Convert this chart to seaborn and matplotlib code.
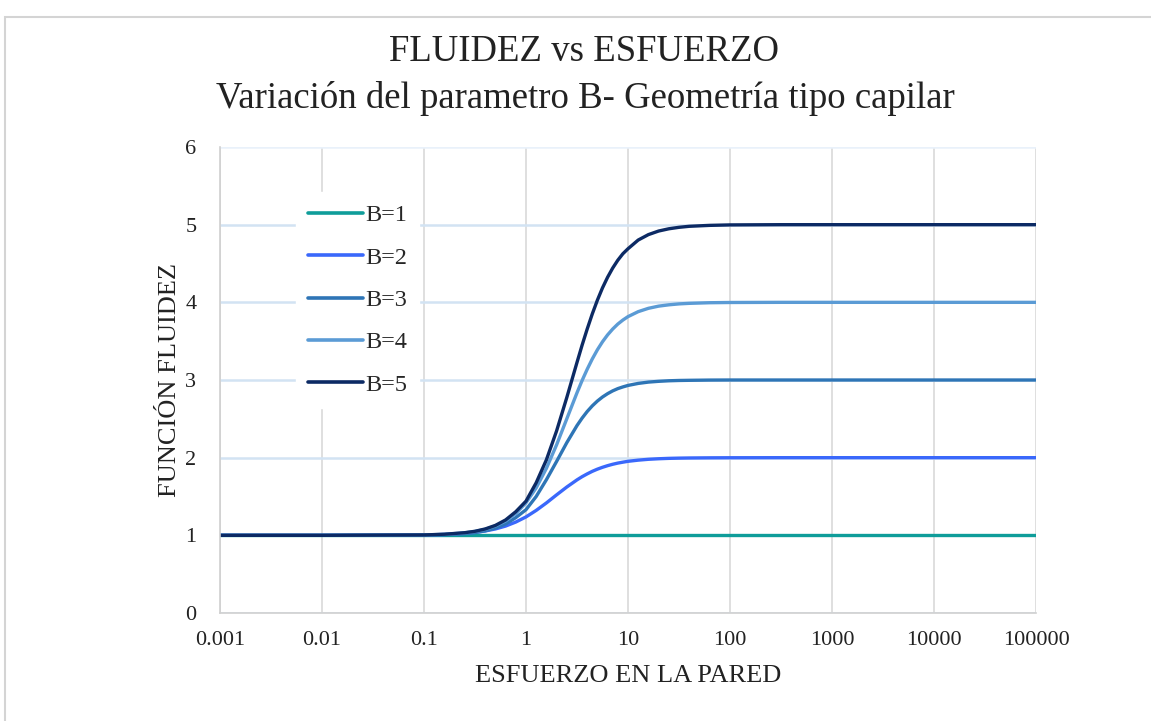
import numpy as np
import pandas as pd
import matplotlib
matplotlib.use("Agg")
import matplotlib.pyplot as plt
from matplotlib.patches import Rectangle
from matplotlib.ticker import FixedLocator, FixedFormatter, NullLocator
import seaborn as sns

# Wall shear stress values (log-spaced, denser through the transition)
esfuerzo = [0.001, 0.01, 0.1, 0.1585, 0.2512, 0.3162, 0.3981, 0.5012, 0.631,
            0.7943, 1.0, 1.259, 1.585, 1.995, 2.512, 3.162, 3.548, 3.981,
            4.467, 5.012, 5.623, 6.31, 7.079, 7.943, 8.913, 10.0, 12.59,
            15.85, 19.95, 25.12, 31.62, 39.81, 63.1, 100.0, 316.2, 1000.0,
            10000.0, 100000.0]

# Fluidity function for each value of parameter B
fluidez_b1 = [1.0] * 38
fluidez_b2 = [1.0, 1.0, 1.005, 1.011, 1.025, 1.037, 1.056, 1.082, 1.119,
              1.171, 1.237, 1.321, 1.417, 1.521, 1.622, 1.714, 1.755, 1.791,
              1.824, 1.852, 1.876, 1.897, 1.915, 1.930, 1.942, 1.953, 1.968,
              1.979, 1.986, 1.991, 1.994, 1.996, 1.998, 1.999, 2.0, 2.0,
              2.0, 2.0]
fluidez_b3 = [1.0, 1.0, 1.003, 1.008, 1.022, 1.036, 1.058, 1.093, 1.146,
              1.228, 1.330, 1.500, 1.716, 1.951, 2.193, 2.413, 2.509, 2.594,
              2.667, 2.729, 2.781, 2.824, 2.860, 2.889, 2.911, 2.930, 2.956,
              2.973, 2.983, 2.990, 2.994, 2.996, 2.999, 3.0, 3.0, 3.0,
              3.0, 3.0]
fluidez_b4 = [1.0, 1.0, 1.005, 1.013, 1.032, 1.050, 1.077, 1.120, 1.184,
              1.280, 1.419, 1.611, 1.862, 2.165, 2.500, 2.835, 2.993, 3.138,
              3.271, 3.389, 3.492, 3.581, 3.656, 3.720, 3.772, 3.816, 3.880,
              3.923, 3.951, 3.968, 3.980, 3.987, 3.995, 3.998, 4.0, 4.0,
              4.0, 4.0]
fluidez_b5 = [1.0, 1.0, 1.005, 1.014, 1.034, 1.052, 1.082, 1.128, 1.198,
              1.304, 1.440, 1.677, 1.972, 2.344, 2.774, 3.226, 3.448, 3.656,
              3.851, 4.028, 4.186, 4.323, 4.441, 4.542, 4.626, 4.690, 4.802,
              4.872, 4.918, 4.947, 4.966, 4.979, 4.991, 4.997, 5.0, 5.0,
              5.0, 5.0]

series_labels = ["B=1", "B=2", "B=3", "B=4", "B=5"]
series_colors = ["#0f9d9a", "#3a68fb", "#2e75b6", "#5b9bd5", "#0c2a64"]

x_ticks = [0.001, 0.01, 0.1, 1, 10, 100, 1000, 10000, 100000]
x_tick_labels = ["0.001", "0.01", "0.1", "1", "10", "100", "1000", "10000", "100000"]
y_ticks = [0, 1, 2, 3, 4, 5, 6]

frames = []
for lab, vals in zip(series_labels,
                     [fluidez_b1, fluidez_b2, fluidez_b3, fluidez_b4, fluidez_b5]):
    frames.append(pd.DataFrame({"esfuerzo": esfuerzo, "fluidez": vals, "serie": lab}))
df = pd.concat(frames, ignore_index=True)

sns.set_style("white")
plt.rcParams["font.family"] = ["Liberation Serif", "DejaVu Serif"]

fig = plt.figure(figsize=(11.51, 7.21), dpi=100)
ax = fig.add_axes([0.1911, 0.1498, 0.7090, 0.6463])

# outer chart frame
fig.add_artist(Rectangle((5 / 1151, -0.1), 1.2, 1.1 - 17 / 721,
                         transform=fig.transFigure, fill=False,
                         edgecolor="#d4d4d4", linewidth=1.5))

sns.lineplot(data=df, x="esfuerzo", y="fluidez", hue="serie",
             hue_order=series_labels, palette=series_colors,
             linewidth=2.4, ax=ax, legend=True, sort=False)

ax.set_xscale("log")
ax.set_xlim(0.001, 100000)
ax.set_ylim(0, 6)
ax.xaxis.set_major_locator(FixedLocator(x_ticks))
ax.xaxis.set_major_formatter(FixedFormatter(x_tick_labels))
ax.xaxis.set_minor_locator(NullLocator())
ax.set_yticks(y_ticks)

# grid: vertical gray, horizontal pale blue
ax.set_axisbelow(True)
ax.xaxis.grid(True, color="#d9d9d9", linewidth=1.2)
ax.yaxis.grid(True, color="#d2e3f3", linewidth=1.8)
ax.yaxis.get_gridlines()[-1].set_color("#e9f1fa")

for side in ["top", "right"]:
    ax.spines[side].set_visible(False)
for side in ["bottom", "left"]:
    ax.spines[side].set_color("#d0d0d0")
    ax.spines[side].set_linewidth(1.2)

ax.tick_params(axis="both", length=0, labelsize=16, colors="#222222")
ax.tick_params(axis="x", pad=13)
ax.tick_params(axis="y", pad=17)

ax.set_xlabel("ESFUERZO EN LA PARED", fontsize=19, labelpad=11, color="#222222")
ax.set_ylabel("FUNCIÓN FLUIDEZ", fontsize=19, labelpad=3, color="#222222")

handles, labels = ax.get_legend_handles_labels()
leg = ax.legend(handles, labels, loc="upper left", bbox_to_anchor=(0.0931, 0.9034),
                frameon=True, facecolor="white", edgecolor="white", framealpha=1,
                fancybox=False, fontsize=17.5, handlelength=2.26, handletextpad=0.08,
                labelspacing=0.84, borderpad=0.5, borderaxespad=0)
for line in leg.get_lines():
    line.set_linewidth(2.6)

fig.text(0.507, 0.928, "FLUIDEZ vs ESFUERZO", ha="center", va="center",
         fontsize=26.5, color="#222222")
fig.text(0.509, 0.863, "Variación del parametro B- Geometría tipo capilar",
         ha="center", va="center", fontsize=26.5, color="#222222")

fig.savefig("out.png", dpi=100)
